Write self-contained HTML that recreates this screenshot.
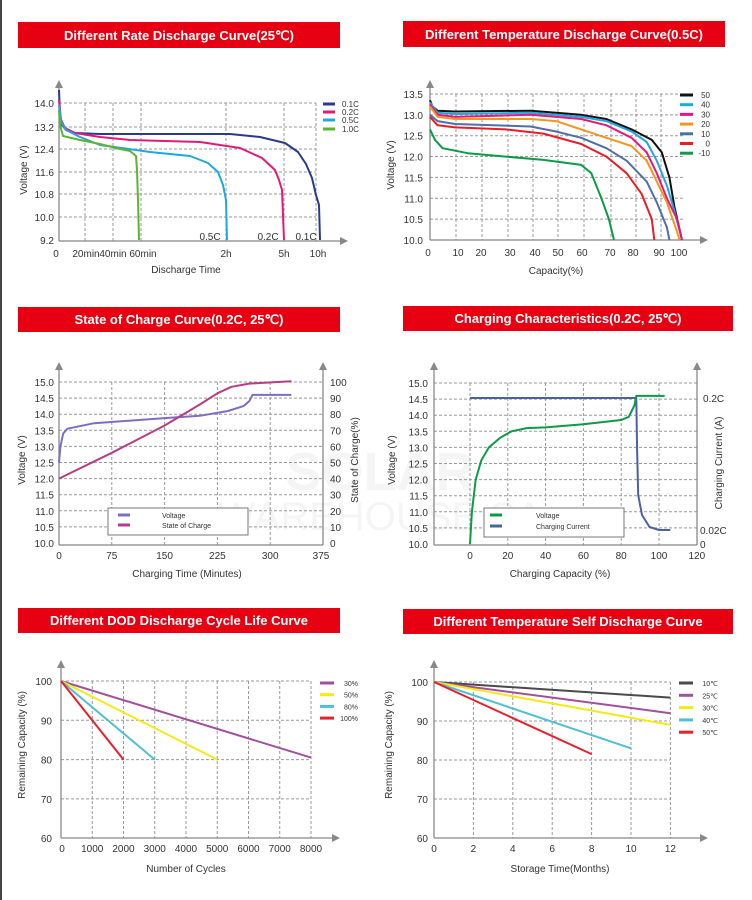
<!DOCTYPE html>
<html><head><meta charset="utf-8"><style>
html,body{margin:0;padding:0;background:#fff}
svg{display:block;font-family:"Liberation Sans",Arial,sans-serif}
</style></head><body>
<svg id="s" width="752" height="900" viewBox="0 0 752 900" xmlns="http://www.w3.org/2000/svg">
<rect width="752" height="900" fill="#fff"/>
<rect x="0" y="0" width="2" height="900" fill="#444"/>
<g font-weight="bold" font-size="13" fill="#fff" text-anchor="middle">
<rect x="18" y="22" width="322" height="26" fill="#e60012"/><text x="179" y="40">Different Rate Discharge Curve(25℃)</text>
<rect x="403" y="21" width="322" height="26" fill="#e60012"/><text x="564" y="39">Different Temperature Discharge Curve(0.5C)</text>
<rect x="18" y="307" width="322" height="25" fill="#e60012"/><text x="179" y="324">State of Charge Curve(0.2C, 25℃)</text>
<rect x="403" y="306" width="330" height="25" fill="#e60012"/><text x="568" y="323">Charging Characteristics(0.2C, 25℃)</text>
<rect x="18" y="608" width="322" height="25" fill="#e60012"/><text x="179" y="625">Different DOD Discharge Cycle Life Curve</text>
<rect x="403" y="609" width="330" height="25" fill="#e60012"/><text x="568" y="626">Different Temperature Self Discharge Curve</text>
</g>
<text x="380" y="490" font-size="54" font-weight="bold" fill="#000" opacity="0.035" text-anchor="middle">SOLAR</text>
<text x="380" y="530" font-size="40" fill="#000" opacity="0.035" text-anchor="middle">WAREHOUSE SA</text>
<g id="g"></g>
</svg>
<script>
var g=document.getElementById('g'),NS='http://www.w3.org/2000/svg';
function el(t,a,txt){var e=document.createElementNS(NS,t);for(var k in a)e.setAttribute(k,a[k]);if(txt!=null)e.textContent=txt;g.appendChild(e);return e;}
function line(x1,y1,x2,y2,c,w,d){var a={x1:x1,y1:y1,x2:x2,y2:y2,stroke:c,'stroke-width':w||1};if(d)a['stroke-dasharray']=d;el('line',a);}
function hg(y,x0,x1){line(x0,y,x1,y,'#999',1,'3,2');}
function vg(x,y0,y1){line(x,y0,x,y1,'#999',1,'3,2');}
function T(x,y,s,an,sz,col,rot){var a={x:x,y:y,'font-size':sz||10,fill:col||'#333','text-anchor':an||'middle'};if(rot)a.transform='rotate(-90 '+x+' '+y+')';el('text',a,s);}
function up(x,y0,y1){line(x,y0,x,y1+6,'#888',1.3);el('polygon',{points:(x-4)+','+(y1+8)+' '+(x+4)+','+(y1+8)+' '+x+','+y1,fill:'#888'});}
function rt(y,x0,x1){line(x0,y,x1-6,y,'#888',1.3);el('polygon',{points:(x1-8)+','+(y-4)+' '+(x1-8)+','+(y+4)+' '+x1+','+y,fill:'#888'});}
function pl(pts,fx,fy,c,w){var s=pts.map(function(p){return fx(p[0]).toFixed(1)+','+fy(p[1]).toFixed(1)}).join(' ');el('polyline',{points:s,fill:'none',stroke:c,'stroke-width':w||2,'stroke-linejoin':'round'});}
function leg(x,y,c,s,lx,sz){line(x,y,x+12,y,c,3);T(lx,y+3,s,'start',sz||8,'#333');}

// Chart 1
var c1y=[[14.0,103],[13.2,127],[12.4,149],[11.6,172],[10.8,194],[10.0,217],[9.2,240]];
c1y.forEach(function(t){if(t[0]>9.3)hg(t[1],59,316);T(54,t[1]+4,t[0].toFixed(1),'end',10);});
[85,113,141,226,284,316].forEach(function(x){vg(x,103,241);});
up(59,241,80);rt(241,59,348);
[[56,'0'],[86,'20min'],[113,'40min'],[143,'60min'],[226,'2h'],[284,'5h'],[318,'10h']].forEach(function(t){T(t[0],257,t[1]);});
T(210,240,'0.5C');T(268,240,'0.2C');T(306,240,'0.1C');
T(186,273,'Discharge Time');T(27,170,'Voltage (V)','middle',10,'#333',1);
var id=function(v){return v};
pl([[59,90],[60,115],[62,125],[66,130],[75,133],[100,134],[230,134],[260,137],[285,143],[298,152],[306,164],[312,178],[316,195],[319,205],[320,240]],id,id,'#2b3990');
pl([[59,100],[61,120],[65,128],[75,133],[100,137],[130,140],[200,142],[240,148],[262,158],[275,170],[279,180],[282,190],[284,240]],id,id,'#e6197b');
pl([[59,105],[61,122],[66,130],[80,137],[100,145],[150,152],[190,156],[208,163],[218,172],[223,185],[226,200],[227,240]],id,id,'#1fa8e0');
pl([[59,110],[60,125],[63,136],[80,140],[100,144],[120,149],[130,151],[136,156],[137,170],[138,200],[139,240]],id,id,'#5cb531');
leg(323,104,'#2b3990','0.1C',342);leg(323,112,'#e6197b','0.2C',342);leg(323,120,'#1fa8e0','0.5C',342);leg(323,129,'#5cb531','1.0C',342);

// Chart 2
var c2y=function(v){return 94+(13.5-v)*41.7},c2x=function(c){return 430+c*2.52};
[13.5,13.0,12.5,12.0,11.5,11.0,10.5,10.0].forEach(function(v){if(v>10)hg(c2y(v),430,683);T(423,c2y(v)+4,v.toFixed(1),'end',10);});
[456,482,508,533,558,584,611,636,661].forEach(function(x){vg(x,94,240);});
up(430,240,80);rt(240,430,708);
[[428,'0'],[458,'10'],[481,'20'],[510,'30'],[535,'40'],[558,'50'],[582,'60'],[610,'70'],[633,'80'],[659,'90'],[679,'100']].forEach(function(t){T(t[0],256,t[1]);});
T(556,274,'Capacity(%)');T(394,165,'Voltage (V)','middle',10,'#333',1);
var s2=[
['#111',[[0,13.35],[1,13.2],[3,13.1],[10,13.08],[40,13.1],[60,13.0],[70,12.9],[80,12.65],[88,12.4],[92,12.1],[95,11.5],[97,10.8],[100,10.0]]],
['#1fa8e0',[[0,13.3],[3,13.05],[10,13.02],[40,13.05],[60,12.95],[70,12.85],[80,12.6],[86,12.35],[90,11.9],[94,11.3],[97,10.7],[100,10.0]]],
['#e6197b',[[0,13.25],[3,13.0],[10,12.95],[40,13.0],[60,12.9],[70,12.75],[80,12.45],[86,12.1],[90,11.6],[94,11.0],[98,10.5],[100,10.0]]],
['#f7941d',[[0,13.2],[3,12.95],[10,12.9],[40,12.9],[50,12.85],[60,12.65],[70,12.45],[80,12.25],[86,11.9],[90,11.4],[94,10.9],[98,10.2],[99,10.0]]],
['#4f6fa8',[[0,13.0],[3,12.85],[10,12.78],[40,12.72],[50,12.6],[60,12.45],[70,12.2],[78,11.9],[86,11.4],[90,10.9],[94,10.3],[95,10.0]]],
['#ec1c24',[[0,12.95],[3,12.75],[10,12.7],[30,12.65],[45,12.55],[60,12.3],[70,12.0],[78,11.6],[84,11.1],[88,10.5],[89,10.0]]],
['#0d9b48',[[0,12.65],[2,12.4],[5,12.2],[15,12.08],[30,12.0],[45,11.92],[60,11.8],[64,11.6],[68,11.0],[71,10.5],[73,10.0]]]];
var lb2=['50','40','30','20','10','0','-10'];
s2.forEach(function(s,i){pl(s[1],c2x,c2y,s[0]);line(680,95+i*9.7,693,95+i*9.7,s[0],3);T(710,98+i*9.7,lb2[i],'end',8);});

// Chart 3
var c3y=function(v){return 382+(15-v)*32.2},c3x=function(t){return 59+t*0.704};
[15,14.5,14,13.5,13,12.5,12,11.5,11,10.5,10].forEach(function(v){if(v>10)hg(c3y(v),59,323);T(54,c3y(v)+4,v.toFixed(1),'end',10);});
[75,150,225,300].forEach(function(t){vg(c3x(t),382,545);});
up(59,545,362);up(323,545,362);line(59,545,323,545,'#888',1.3);
[0,75,150,225,300,375].forEach(function(t){T(c3x(t)+(t==375?-2:0),559,String(t));});
[100,90,80,70,60,50,40,30,20,10,0].forEach(function(p){T(330,382+(100-p)*1.61+4,String(p),'start',10);});
T(187,577,'Charging Time (Minutes)');T(25,460,'Voltage (V)','middle',10,'#333',1);T(358,460,'State of Charge(%)','middle',10,'#333',1);
pl([[0,12.5],[2,13.0],[6,13.4],[12,13.55],[50,13.72],[150,13.88],[200,13.95],[240,14.1],[262,14.25],[270,14.4],[275,14.6],[330,14.6]],c3x,c3y,'#7b6fc5');
pl([[0,40],[75,56],[150,73],[200,86],[225,93],[245,97],[270,99],[330,100.5]],c3x,function(p){return 382+(100-p)*1.61},'#b73d85');
el('rect',{x:108,y:508,width:140,height:27,fill:'#fff',stroke:'#777','stroke-width':1});
leg(118,515,'#7b6fc5','Voltage',162,7);leg(118,525,'#b73d85','State of Charge',162,7);

// Chart 4
var c4y=function(v){return 383+(15-v)*32.2},c4x=function(c){return 470+c*1.89};
[15,14.5,14,13.5,13,12.5,12,11.5,11,10.5,10].forEach(function(v){if(v>10)hg(c4y(v),434,697);T(428,c4y(v)+4,v.toFixed(1),'end',10);});
[0,20,40,60,80,100].forEach(function(c){vg(c4x(c),383,545);});
up(434,545,362);up(697,545,362);line(434,545,697,545,'#888',1.3);
[0,20,40,60,80,100,120].forEach(function(c){T(c4x(c),559,String(c));});
T(703,402,'0.2C','start',10);T(700,534,'0.02C','start',10);T(700,548,'0','start',10);
T(560,577,'Charging Capacity (%)');T(395,460,'Voltage (V)','middle',10,'#333',1);T(722,463,'Charging Current (A)','middle',10,'#333',1);
pl([[0,398],[88,398],[88.4,450],[89,495],[91,515],[95,527],[100,530],[106,530]],c4x,id,'#4a63a0');
pl([[0,10.0],[1,11.0],[3,12.0],[6,12.6],[10,13.0],[16,13.3],[22,13.5],[30,13.6],[40,13.62],[60,13.72],[80,13.85],[84,13.95],[87,14.3],[88,14.6],[103,14.6]],c4x,c4y,'#0d9b48');
el('rect',{x:484,y:508,width:140,height:29,fill:'#fff',stroke:'#777','stroke-width':1});
leg(490,515,'#0d9b48','Voltage',536,7);leg(490,526,'#4a63a0','Charging Current',536,7);

// Chart 5
var c5y=function(v){return 681+(100-v)*3.93},c5x=function(n){return 61+n*0.03125};
[100,90,80,70,60].forEach(function(v){if(v>60)hg(c5y(v),61,311);T(52,c5y(v)+4,String(v),'end',10);});
for(var n=1000;n<=8000;n+=1000)vg(c5x(n),681,838);
up(61,838,660);rt(838,61,340);
for(var n=0;n<=8000;n+=1000)T(c5x(n)+(n==0?1:0),852,String(n));
T(186,872,'Number of Cycles');T(25,745,'Remaining Capacity (%)','middle',10,'#333',1);
var s5=[['#a2509e',8000,80.5,'30%'],['#f5ea14',5000,80,'50%'],['#52bfd1',3000,80,'80%'],['#e8202a',2000,80,'100%']];
s5.forEach(function(s,i){pl([[0,100],[s[1],s[2]]],c5x,c5y,s[0]);line(320,683+i*11.7,334,683+i*11.7,s[0],3);T(358,686+i*11.7,s[3],'end',7);});

// Chart 6
var c6y=function(v){return 682+(100-v)*3.9},c6x=function(m){return 434+m*19.7};
[100,90,80,70,60].forEach(function(v){if(v>60)hg(c6y(v),434,670);T(428,c6y(v)+4,String(v),'end',10);});
[2,4,6,8,10,12].forEach(function(m){vg(c6x(m),682,838);});
up(434,838,660);rt(838,434,708);
[0,2,4,6,8,10,12].forEach(function(m){T(c6x(m),852,String(m));});
T(560,872,'Storage Time(Months)');T(392,745,'Remaining Capacity (%)','middle',10,'#333',1);
var s6=[['#4a4a4a',12,96,'10℃'],['#a2509e',12,92,'25℃'],['#f5ea14',12,89,'30℃'],['#52bfd1',10,83,'40℃'],['#e8202a',8,81.5,'50℃']];
s6.forEach(function(s,i){pl([[0,100],[s[1],s[2]]],c6x,c6y,s[0]);line(679,683+i*12.3,693,683+i*12.3,s[0],3);T(718,686+i*12.3,s[3],'end',7);});
</script>
</body></html>
